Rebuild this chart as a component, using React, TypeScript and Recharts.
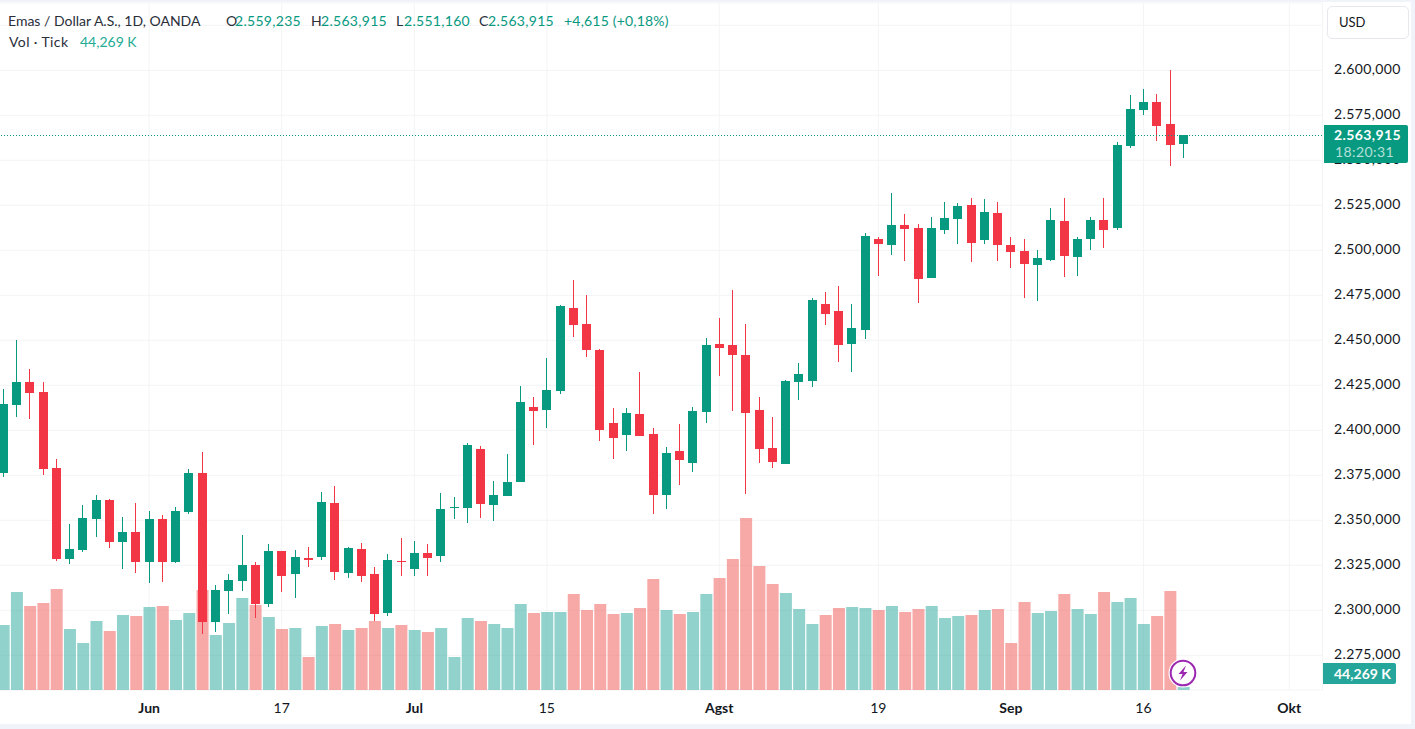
import React from 'react';
import { ComposedChart, Bar, XAxis, YAxis, CartesianGrid, ReferenceLine, Cell } from 'recharts';

const opens = [2376.3,2414.0,2426.8,2421.3,2379.0,2328.5,2333.5,2350.7,2361.3,2337.9,2343.5,2326.8,2350.7,2326.8,2354.6,2376.3,2293.5,2310.7,2316.3,2325.1,2303.5,2332.9,2320.1,2329.0,2329.6,2359.6,2320.7,2334.0,2320.1,2298.5,2327.4,2322.9,2331.8,2330.2,2356.9,2356.9,2389.7,2358.5,2363.5,2371.3,2413.0,2411.3,2421.9,2468.0,2459.1,2444.7,2404.1,2397.4,2409.1,2398.0,2364.1,2388.5,2381.9,2410.2,2448.0,2447.4,2441.9,2411.3,2390.2,2381.3,2426.9,2427.4,2470.1,2466.3,2447.9,2455.7,2506.3,2502.9,2514.0,2512.4,2484.6,2511.3,2517.4,2525.1,2505.7,2520.7,2502.9,2499.6,2491.8,2494.6,2516.3,2496.3,2506.3,2516.8,2512.4,2557.9,2577.9,2582.4,2570.1,2559.2];
const highs = [2422.9,2450.2,2434.0,2426.8,2384.0,2347.9,2358.5,2364.0,2361.8,2351.8,2359.6,2355.1,2352.9,2357.4,2378.5,2387.9,2314.0,2320.1,2341.8,2326.8,2336.8,2332.9,2333.5,2335.1,2365.7,2369.0,2335.1,2337.4,2324.0,2331.3,2340.1,2338.5,2336.8,2365.2,2363.0,2393.0,2391.3,2371.9,2386.9,2424.7,2418.5,2440.2,2469.6,2483.5,2475.2,2445.2,2412.4,2412.4,2432.4,2401.3,2390.8,2403.5,2413.0,2451.3,2462.4,2478.0,2459.1,2418.5,2407.4,2428.0,2437.4,2473.5,2476.8,2480.1,2470.1,2509.6,2507.4,2531.8,2520.1,2514.6,2518.5,2526.8,2526.3,2529.0,2528.5,2526.8,2507.4,2506.3,2500.1,2523.5,2529.0,2507.4,2518.5,2529.0,2560.1,2586.3,2589.6,2586.8,2600.1,2563.9];
const lows = [2374.0,2407.4,2406.3,2375.1,2327.4,2325.7,2332.4,2340.7,2334.6,2322.9,2320.7,2315.1,2315.7,2326.3,2353.5,2286.8,2288.1,2297.9,2310.7,2295.7,2301.8,2310.1,2306.8,2324.0,2327.9,2316.8,2317.9,2315.7,2294.0,2296.8,2319.0,2319.0,2319.0,2326.8,2350.8,2348.5,2351.3,2349.7,2363.5,2371.3,2391.9,2401.3,2420.2,2451.9,2440.8,2394.1,2384.1,2388.5,2396.9,2353.5,2356.3,2369.7,2376.9,2404.1,2430.2,2410.8,2364.7,2381.9,2379.1,2381.3,2416.9,2424.1,2458.5,2437.9,2432.4,2450.7,2485.7,2497.4,2494.0,2470.7,2484.6,2509.0,2503.5,2493.5,2503.5,2494.0,2490.1,2473.5,2471.8,2494.0,2485.1,2485.7,2500.1,2501.3,2511.3,2556.8,2575.1,2560.7,2546.8,2551.2];
const closes = [2414.6,2426.8,2420.7,2378.5,2328.5,2334.0,2351.3,2361.3,2337.9,2343.5,2326.8,2350.7,2326.8,2355.1,2376.3,2293.5,2311.3,2316.8,2325.1,2303.5,2332.9,2319.0,2329.6,2327.9,2360.1,2321.3,2334.6,2319.0,2297.9,2327.9,2327.0,2331.8,2329.0,2356.3,2357.4,2391.9,2359.1,2364.1,2371.3,2415.8,2410.8,2422.4,2469.1,2458.5,2444.7,2400.2,2395.8,2409.7,2396.9,2364.1,2387.4,2383.5,2410.8,2447.4,2445.8,2441.9,2409.7,2389.7,2382.4,2427.4,2431.3,2472.4,2464.6,2447.4,2456.8,2507.9,2503.5,2514.0,2511.8,2484.0,2512.4,2517.9,2524.6,2504.0,2521.3,2502.9,2499.0,2492.4,2495.7,2516.8,2496.8,2506.3,2516.8,2511.3,2558.5,2578.5,2582.4,2569.0,2558.5,2563.9];
const volumes = [65,98,84,87,101,61,47,69,59,75,74,83,84,70,77,100,55,67,92,85,73,61,62,33,64,66,60,62,69,62,65,60,58,62,33,72,69,66,62,86,77,78,78,96,80,86,76,77,82,111,80,76,78,96,112,131,172,124,106,97,81,66,75,82,83,82,80,84,78,81,84,72,74,75,80,81,47,88,77,79,96,81,76,98,88,92,66,74,99,3];
const futureSlots = 10;
const tickSlots = [11, 21, 31, 41, 54, 66, 76, 86, 97];
const tickLabels = ['Jun', '17', 'Jul', '15', 'Agst', '19', 'Sep', '16', 'Okt'];
const monthLabels = ['Jun', 'Jul', 'Agst', 'Sep', 'Okt'];
const priceTicks = [2275, 2300, 2325, 2350, 2375, 2400, 2425, 2450, 2475, 2500, 2525, 2550, 2575, 2600, 2625];
const unlabelledPrice = 2625;
const lastClose = 2563.915;

const UP = '#089981';
const DOWN = '#F23645';
const FONT = 'Lato, "Open Sans", sans-serif';

const rows = Array.from({ length: opens.length + futureSlots }, (_, i) => ({
  slot: i,
  open: opens[i],
  high: highs[i],
  low: lows[i],
  close: closes[i],
  volume: volumes[i],
}));

function Candle(props: any) {
  const { x, y, width, height, payload } = props;
  if (!payload || payload.high == null) return null;
  const perUnit = height / (payload.high - payload.low);
  const yOf = (v: number) => y + (payload.high - v) * perUnit;
  const up = payload.close >= payload.open;
  const color = up ? UP : DOWN;
  const cx = Math.floor(x + width / 2 + 0.2);
  const top = Math.round(yOf(Math.max(payload.open, payload.close)));
  const bot = Math.round(yOf(Math.min(payload.open, payload.close)));
  return (
    <g shapeRendering="crispEdges">
      <rect x={cx} y={Math.round(y)} width={1} height={Math.max(1, Math.round(height))} fill={color} />
      <rect x={cx - 4} y={top} width={9} height={Math.max(1, bot - top)} fill={color} />
    </g>
  );
}

function PriceTick(props: any) {
  const { x, y, payload } = props;
  if (payload.value === unlabelledPrice) return <g />;
  const s = payload.value.toFixed(3).replace('.', ',');
  const label = s[0] + '.' + s.slice(1);
  return (
    <text x={x + 3.5} y={y + 3.8} fontSize={14} letterSpacing={0.4} fontFamily={FONT} fill="#131722">{label}</text>
  );
}

function TimeTick(props: any) {
  const { x, y, payload } = props;
  const label = tickLabels[tickSlots.indexOf(payload.value)];
  const month = monthLabels.includes(label);
  return (
    <text x={x} y={y + 15} textAnchor="middle" fontSize={14} fontFamily={FONT}
      fontWeight={month ? 700 : 400} fill="#131722">{label}</text>
  );
}

const spanStyle = (left: number, top: number, color: string, spacing: number): React.CSSProperties => ({
  position: 'absolute', left, top, color, fontSize: 14, letterSpacing: spacing, lineHeight: '18px', whiteSpace: 'nowrap',
});

const headerItems: [number, number, string, string, number][] = [
  [8, 12, '#2A2E39', 'Emas / Dollar A.S., 1D, OANDA', 0],
  [226, 12, '#2A2E39', 'O', 0],
  [235, 12, UP, '2.559,235', 0.3],
  [311, 12, '#2A2E39', 'H', 0],
  [321, 12, UP, '2.563,915', 0.3],
  [396, 12, '#2A2E39', 'L', 0],
  [404, 12, UP, '2.551,160', 0.3],
  [479, 12, '#2A2E39', 'C', 0],
  [488, 12, UP, '2.563,915', 0.3],
  [564, 12, UP, '+4,615 (+0,18%)', 0.2],
  [9, 33, '#2A2E39', 'Vol · Tick', 0.4],
  [80, 33, '#22AB94', '44,269 K', 0],
];

export default function App() {
  return (
    <div style={{ position: 'fixed', left: 0, top: 0, width: 1415, height: 729, background: '#F0F3FA', overflow: 'hidden', fontFamily: FONT }}>
      <div style={{ position: 'absolute', left: 0, top: 2, width: 1411, height: 722, background: '#FFFFFF' }} />
      <div style={{ position: 'absolute', left: 0, top: 0 }}>
        <ComposedChart width={1411} height={724} data={rows} barCategoryGap={0}
          margin={{ top: 3, right: 0, bottom: 0, left: -3.33 }}>
          <CartesianGrid stroke="#F3F4F6" strokeWidth={1} xAxisId="main" yAxisId="price" />
          <XAxis xAxisId="main" dataKey="slot" type="category" ticks={tickSlots} interval={0} height={34}
            axisLine={false} tickLine={false} tick={<TimeTick />} />
          <XAxis xAxisId="vol" dataKey="slot" type="category" hide />
          <YAxis yAxisId="price" orientation="right" type="number" width={88.53}
            domain={[2255.72, 2637.39]} ticks={priceTicks} interval={0} allowDataOverflow
            axisLine={false} tickLine={false} tick={<PriceTick />} />
          <YAxis yAxisId="volume" type="number" domain={[0, 687]} hide />
          <Bar xAxisId="vol" yAxisId="volume" dataKey="volume" barSize={12} isAnimationActive={false}>
            {rows.map((r) => (
              <Cell key={r.slot} fill={r.close >= r.open ? '#26A69A' : '#EF5350'} fillOpacity={0.5} />
            ))}
          </Bar>
          <ReferenceLine xAxisId="main" yAxisId="price" y={lastClose} stroke={UP} strokeWidth={1} strokeDasharray="1 2" shapeRendering="crispEdges" />
          <Bar xAxisId="main" yAxisId="price" dataKey={(r: any) => (r.high == null ? null : [r.low, r.high])}
            shape={<Candle />} isAnimationActive={false} />
        </ComposedChart>
      </div>

      {headerItems.map(([l, t, c, s, sp]) => (
        <span key={l + '-' + t} style={spanStyle(l, t, c, sp)}>{s}</span>
      ))}

      <div style={{ position: 'absolute', left: 1327, top: 6, width: 80, height: 31, border: '1px solid #E6E8EE', borderRadius: 5, background: '#fff', boxSizing: 'content-box', fontSize: 13, lineHeight: '30px', color: '#131722', textIndent: 11 }}>USD</div>

      <div style={{ position: 'absolute', left: 1324, top: 125, width: 84, height: 38, background: UP, borderRadius: '0 2px 2px 0' }}>
        <div style={{ position: 'absolute', left: 10, top: 1, color: '#FFFFFF', fontSize: 14, letterSpacing: 0.4, lineHeight: '18px', fontWeight: 700 }}>2.563,915</div>
        <div style={{ position: 'absolute', left: 11, top: 18, color: '#B5E0D8', fontSize: 14, letterSpacing: 0.4, lineHeight: '18px' }}>18:20:31</div>
      </div>

      <div style={{ position: 'absolute', left: 1323, top: 663, width: 73, height: 21, background: '#26A69A', borderRadius: '0 2px 2px 0', color: '#fff', fontSize: 14, fontWeight: 700, lineHeight: '21px', textIndent: 11 }}>44,269 K</div>

      <svg style={{ position: 'absolute', left: 1167.3, top: 657 }} width={32} height={32} viewBox="0 0 32 32">
        <circle cx={16} cy={16} r={14.5} fill="#FFFFFF" />
        <circle cx={16} cy={16} r={12.3} fill="#FFFFFF" stroke="#9C27B0" strokeWidth={2} />
        <path d="M19 8.5 L11.5 17 H15.5 L13 23.5 L20.5 15 H16.5 Z" fill="#9C27B0" />
      </svg>
    </div>
  );
}
